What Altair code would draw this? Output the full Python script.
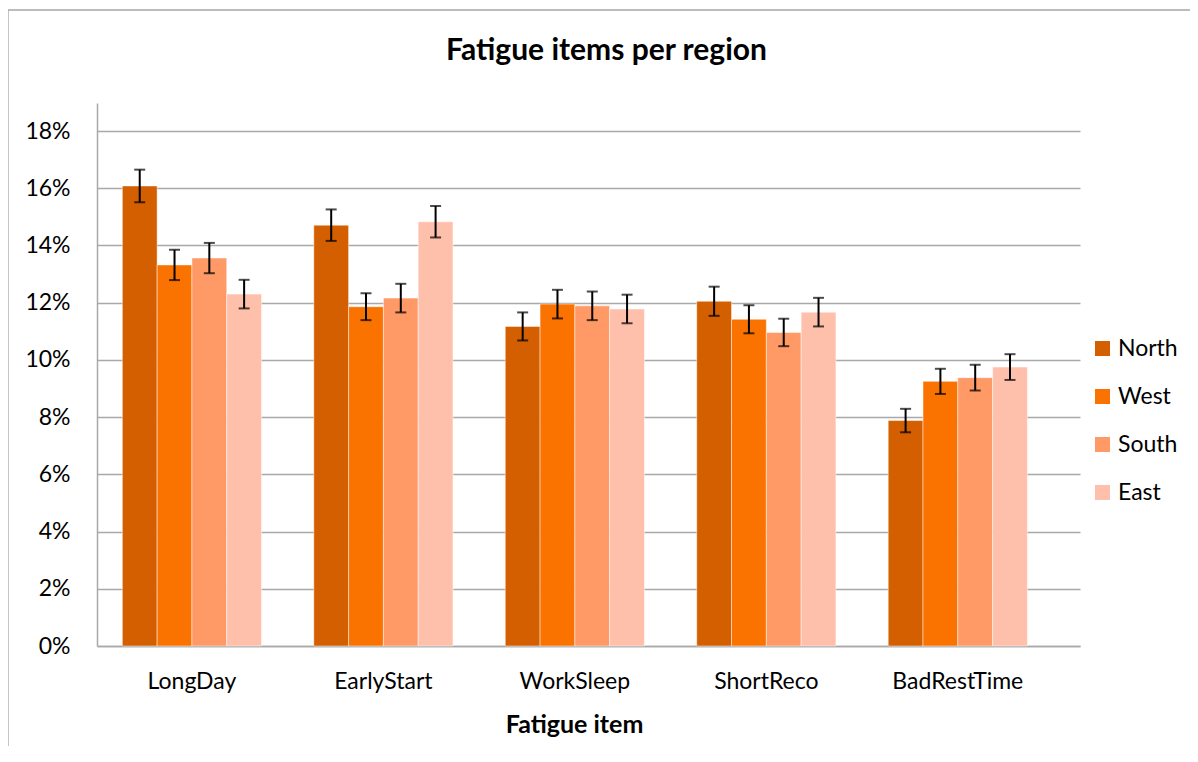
import altair as alt
import pandas as pd

items = ["LongDay", "EarlyStart", "WorkSleep", "ShortReco", "BadRestTime"]
regions = ["North", "West", "South", "East"]
north = [16.08, 14.71, 11.17, 12.05, 7.88]
west = [13.32, 11.86, 11.95, 11.42, 9.25]
south = [13.56, 12.16, 11.89, 10.96, 9.38]
east = [12.30, 14.83, 11.78, 11.67, 9.75]
north_err = [0.57, 0.55, 0.49, 0.51, 0.41]
west_err = [0.53, 0.47, 0.50, 0.49, 0.44]
south_err = [0.53, 0.50, 0.50, 0.48, 0.45]
east_err = [0.50, 0.55, 0.50, 0.50, 0.45]
colors = ["#D35F00", "#FA7200", "#FF9966", "#FFC0AB"]
y_ticks = [0, 0.02, 0.04, 0.06, 0.08, 0.10, 0.12, 0.14, 0.16, 0.18]

series = {"North": (north, north_err), "West": (west, west_err),
          "South": (south, south_err), "East": (east, east_err)}
rows = []
for reg in regions:
    vals, errs = series[reg]
    for it, v, e in zip(items, vals, errs):
        rows.append({"item": it, "region": reg, "value": v / 100,
                     "lo": (v - e) / 100, "hi": (v + e) / 100})
df = pd.DataFrame(rows)

FONT = "Lato"
GRID = "#A9A9A9"
LBL = 23

x_enc = alt.X("item:N", sort=items,
              scale=alt.Scale(paddingInner=0.273, paddingOuter=0.2035, align=0.325, round=False),
              axis=alt.Axis(title="Fatigue item", labelAngle=0, ticks=False, grid=False,
                            domainColor=GRID, domainWidth=1.5,
                            labelFont=FONT, labelFontSize=LBL, labelColor="#000000",
                            labelBaseline="alphabetic", labelPadding=42,
                            titleFont=FONT, titleFontSize=25, titleFontWeight="bold",
                            titleColor="#000000", titleX=477, titleY=86,
                            titleAlign="center", titleBaseline="alphabetic"))
xo_enc = alt.XOffset("region:N", sort=regions,
                     scale=alt.Scale(paddingInner=0, paddingOuter=0))
y_scale = alt.Scale(domain=[0, 0.1898], nice=False, zero=True)

base = alt.Chart(df)

bars = base.mark_bar(stroke="#FFFFFF", strokeWidth=0.8, strokeOpacity=0.6).encode(
    x=x_enc,
    xOffset=xo_enc,
    y=alt.Y("value:Q", scale=y_scale,
            axis=alt.Axis(title=None, format=".0%", values=y_ticks, ticks=False,
                          grid=True, gridColor=GRID, gridWidth=1.5,
                          domain=True, domainColor=GRID, domainWidth=1.5,
                          labelFont=FONT, labelFontSize=LBL, labelColor="#000000",
                          labelPadding=27, labelBaseline="middle")),
    color=alt.Color("region:N", sort=regions,
                    scale=alt.Scale(domain=regions, range=colors),
                    legend=alt.Legend(title=None, orient="none", legendX=994, legendY=234,
                                      symbolType="square", symbolSize=225,
                                      symbolStrokeWidth=0, labelFont=FONT,
                                      labelFontSize=LBL, labelColor="#000000",
                                      labelOffset=4, rowPadding=24)),
)

err = base.mark_rule(color="#000000", strokeWidth=2).encode(
    x=alt.X("item:N", sort=items), xOffset=alt.XOffset("region:N", sort=regions),
    y=alt.Y("lo:Q", scale=y_scale), y2="hi:Q")
cap_lo = base.mark_tick(color="#000000", thickness=2, size=11).encode(
    x=alt.X("item:N", sort=items), xOffset=alt.XOffset("region:N", sort=regions),
    y=alt.Y("lo:Q", scale=y_scale))
cap_hi = base.mark_tick(color="#000000", thickness=2, size=11).encode(
    x=alt.X("item:N", sort=items), xOffset=alt.XOffset("region:N", sort=regions),
    y=alt.Y("hi:Q", scale=y_scale))

frame_df = pd.DataFrame({"k": [0]})
border_v = alt.Chart(frame_df).mark_rule(color="#A6A6A6", strokeWidth=1.3).encode(
    x=alt.value(-89), y=alt.value(-93), y2=alt.value(900))
border_h = alt.Chart(frame_df).mark_rule(color="#A6A6A6", strokeWidth=1.3).encode(
    x=alt.value(-89), x2=alt.value(1200), y=alt.value(-93))

chart = alt.layer(bars, err, cap_lo, cap_hi, border_v, border_h).properties(
    width=983, height=543,
    title=alt.TitleParams("Fatigue items per region", font=FONT, fontSize=30,
                          fontWeight="bold", color="#000000", anchor="middle",
                          frame="group", dx=18, offset=-80.5, baseline="alphabetic"),
    autosize=alt.AutoSizeParams(type="none"),
    padding={"left": 89, "top": 95, "right": 110, "bottom": 100},
    background="#FFFFFF",
).configure_view(strokeWidth=0, stroke="transparent")

chart.save("out.html", embed_options={"renderer": "svg", "actions": False})
